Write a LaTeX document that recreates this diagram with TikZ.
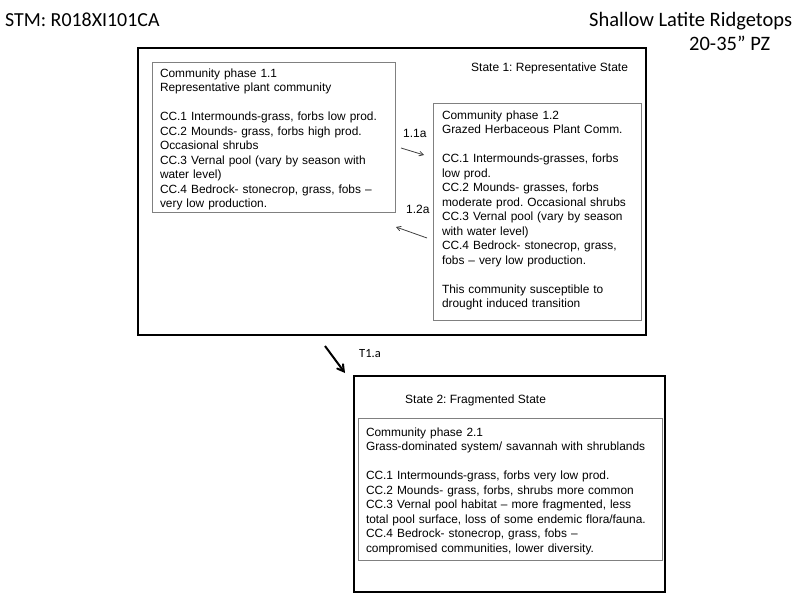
\documentclass[tikz,border=0pt]{standalone}
\usepackage{fontspec}
\setmainfont{Liberation Sans}
\newfontfamily\calibrifont{Carlito}
\usepackage{tikz}
\usetikzlibrary{arrows}
\frenchspacing
\tikzset{
    statebox/.style = {
        rectangle,
        draw=black,
        line width=2.6pt,
        inner sep=0pt,
        outer sep=0pt,
        anchor=north west
    },
    phasebox/.style = {
        rectangle,
        draw=black!50,
        line width=0.9pt,
        align=left,
        inner xsep=8pt,
        inner ysep=0pt,
        outer sep=0pt,
        anchor=north west,
        font=\fontsize{11.9}{14.5}\selectfont
    },
    statelabel/.style = {
        inner sep=0pt,
        anchor=base west,
        font=\fontsize{12}{14.5}\selectfont
    },
    translabel/.style = {
        statelabel
    },
    headlabel/.style = {
        inner sep=0pt,
        anchor=base west,
        font=\calibrifont\fontsize{20.5}{24}\selectfont
    },
    phasearrow/.style = {
        -angle 60,
        draw=black!75,
        line width=0.8pt
    },
    transarrow/.style = {
        -angle 60,
        draw=black,
        line width=2pt
    }
}

\begin{document}
\begin{tikzpicture}[x=1pt, y=-1pt]
    \useasboundingbox (0,0) rectangle (800,597);

    \node [headlabel, font=\calibrifont\fontsize{19.9}{24}\selectfont] (stm) at (5,26) {STM: R018XI101CA};
    \node [headlabel] (site) at (589,26) {Shallow Latite Ridgetops};
    \node [headlabel] (zone) at (689,50) {20-35” PZ};

    \node [statebox, minimum width=508pt, minimum height=287pt] (state1) at (138,48) {};
    \node [statelabel] (state1name) at (471,71) {State 1: Representative State};

    \node [phasebox, text width=227pt, text height=15pt, text depth=135pt] (phase11) at (152,62) {
        Community phase 1.1\\
        Representative plant community\\[14.5pt]
        CC.1 Intermounds-grass, forbs low prod.\\
        CC.2 Mounds- grass, forbs high prod.\\
        Occasional shrubs\\
        CC.3 Vernal pool (vary by season with\\
        water level)\\
        CC.4 Bedrock- stonecrop, grass, fobs --\\
        very low production.};

    \node [phasebox, inner xsep=9pt, text width=190pt, text height=16pt, text depth=201pt] (phase12) at (433,103) {
        Community phase 1.2\\
        Grazed Herbaceous Plant Comm.\\[14.5pt]
        CC.1 Intermounds-grasses, forbs\\
        low prod.\\
        CC.2 Mounds- grasses, forbs\\
        moderate prod. Occasional shrubs\\
        CC.3 Vernal pool (vary by season\\
        with water level)\\
        CC.4 Bedrock- stonecrop, grass,\\
        fobs -- very low production.\\[14.5pt]
        This community susceptible to\\
        drought induced transition};

    \coordinate (from11a) at (401,148);
    \coordinate (to11a) at (424,155);
    \draw [phasearrow] (from11a) -- (to11a);
    \node [translabel] (label11a) at (403,137) {1.1a};

    \coordinate (from12a) at (427,238);
    \coordinate (to12a) at (396,227);
    \draw [phasearrow] (from12a) -- (to12a);
    \node [translabel] (label12a) at (406,213) {1.2a};

    \coordinate (fromT1a) at (325,346);
    \coordinate (toT1a) at (345,373);
    \draw [transarrow] (fromT1a) -- (toT1a);
    \node [translabel, font=\calibrifont\fontsize{12.5}{14}\selectfont] (labelT1a) at (359,357) {T1.a};

    \node [statebox, minimum width=311pt, minimum height=216pt] (state2) at (354,376) {};
    \node [statelabel] (state2name) at (405,403) {State 2: Fragmented State};

    \node [phasebox, text width=288pt, text height=18pt, text depth=124pt] (phase21) at (358,418) {
        Community phase 2.1\\
        Grass-dominated system/ savannah with shrublands\\[14.5pt]
        CC.1 Intermounds-grass, forbs very low prod.\\
        CC.2 Mounds- grass, forbs, shrubs more common\\
        CC.3 Vernal pool habitat -- more fragmented, less\\
        total pool surface, loss of some endemic flora/fauna.\\
        CC.4 Bedrock- stonecrop, grass, fobs --\\
        compromised communities, lower diversity.};
\end{tikzpicture}
\end{document}
